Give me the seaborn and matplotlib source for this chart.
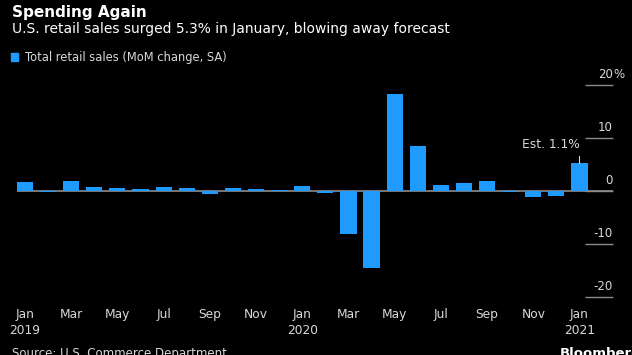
import numpy as np
import pandas as pd
import seaborn as sns
import matplotlib.pyplot as plt
from matplotlib.patches import Patch
from matplotlib.transforms import ScaledTranslation

# monthly retail sales change, %
months = pd.date_range("2019-01-01", "2021-01-01", freq="MS")
mom_change = [1.6, -0.2, 1.8, 0.7, 0.5, 0.4, 0.8, 0.6, -0.6, 0.6, 0.4, 0.2,
              1.0, -0.3, -8.1, -14.5, 18.2, 8.5, 1.2, 1.5, 1.8, -0.1, -1.2, -0.9,
              5.3]
est_label = "Est. 1.1%"
y_ticks = [20, 10, 0, -10, -20]
y_labels = ["20", "10", "0", "-10", "-20"]

df = pd.DataFrame({"month": months.strftime("%Y-%m"), "change": mom_change})

bg = "#000000"
blue = "#1f9bff"
txt = "#d9d9d9"
grey = "#8c8c8c"

sns.set_style("dark")
plt.rcParams['font.family'] = ['DejaVu Sans']

fig = plt.figure(figsize=(6.32, 3.55), dpi=100, facecolor=bg)
ax = fig.add_axes([16.9 / 632, (355 - 297.3) / 355, (613 - 16.9) / 632, 212.6 / 355])
ax.set_facecolor(bg)

sns.barplot(data=df, x="month", y="change", color=blue, saturation=1,
            width=0.7, linewidth=0, ax=ax)

ax.set_xlim(-0.35, 25.45)
ax.set_ylim(-20, 20)
ax.axhline(0, color=grey, lw=1.2, zorder=0)
for s in ax.spines.values():
    s.set_visible(False)
ax.grid(False)
ax.set_xlabel("")
ax.set_ylabel("")

# x ticks every two months
xt = list(range(0, len(months), 2))
xl = []
for i in xt:
    m = months[i]
    lab = m.strftime("%b")
    if m.month == 1:
        lab += "\n" + str(m.year)
    xl.append(lab)
ax.set_xticks(xt)
ax.set_xticklabels(xl, fontsize=8.8, color=txt, linespacing=1.3)
ax.tick_params(axis="x", length=3, width=0.8, color=grey, pad=5, direction="out")

# y axis on the right, labels sitting on top of short tick lines
ax.yaxis.tick_right()
ax.set_yticks(y_ticks)
ax.set_yticklabels(y_labels, fontsize=8.5, color=txt)
ax.tick_params(axis="y", length=20, width=1, color=grey, direction="in", pad=0)
off = ScaledTranslation(0, 5 / 72, fig.dpi_scale_trans)
for lab in ax.get_yticklabels():
    lab.set_horizontalalignment("right")
    lab.set_verticalalignment("baseline")
    lab.set_transform(lab.get_transform() + off)
ax.text(1.0, 20, "%", transform=ax.get_yaxis_transform(), fontsize=8.5, color=txt,
        ha="left", va="baseline").set_transform(ax.get_yaxis_transform() + off)

# estimate note on last bar
last = len(months) - 1
ax.plot([last, last], [mom_change[-1], mom_change[-1] + 1.3], color=txt, lw=0.8)
ax.text(last, 8.7, est_label, fontsize=8.8, color=txt, ha="right", va="center")

# titles and legend
fig.text(12 / 632, (355 - 17) / 355, "Spending Again", fontsize=11,
         fontweight="bold", color="white", va="baseline")
fig.text(12 / 632, (355 - 32.5) / 355,
         "U.S. retail sales surged 5.3% in January, blowing away forecast",
         fontsize=10, color="white", va="baseline")
fig.legend(handles=[Patch(color=blue, label="Total retail sales (MoM change, SA)")],
           loc="center left", bbox_to_anchor=(11 / 632, (355 - 57.5) / 355),
           frameon=False, fontsize=8.3, labelcolor=txt, handlelength=0.65,
           handleheight=0.65, handletextpad=0.6, borderpad=0, borderaxespad=0)

fig.text(12 / 632, (355 - 347) / 355, "Source: U.S. Commerce Department",
         fontsize=8.5, color=txt, va="top")
fig.text(560 / 632, (355 - 347) / 355, "Bloomberg", fontsize=9.5,
         fontweight="bold", color="white", va="top")

fig.savefig("out.png", dpi=100, facecolor=bg)
